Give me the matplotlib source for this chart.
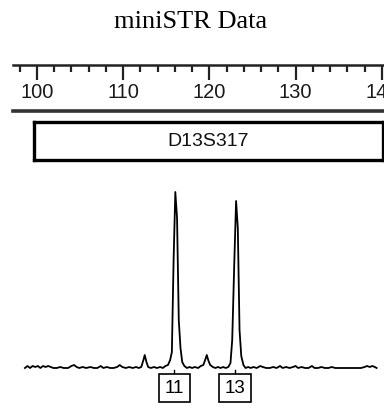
import matplotlib.pyplot as plt
from matplotlib.ticker import FixedLocator

# electropherogram trace, size in bp and signal (arbitrary units)
trace_bp = [98.6, 98.9, 99.2, 99.5, 99.8, 100.1, 100.4, 100.7, 101.0, 101.3,
            101.6, 101.9, 102.3, 102.7, 103.1, 103.6, 104.0, 104.3, 104.6, 104.9,
            105.3, 105.7, 106.2, 106.6, 107.0, 107.4, 107.7, 108.1, 108.5, 108.9,
            109.3, 109.6, 109.9, 110.3, 110.7, 111.1, 111.5, 111.8, 112.1, 112.35,
            112.5, 112.7, 112.9, 113.2, 113.6, 113.9, 114.3, 114.6, 114.9, 115.2,
            115.45, 115.65, 115.85, 116.05, 116.25, 116.45, 116.65, 116.85, 117.1, 117.4,
            117.7, 118.0, 118.3, 118.7, 119.0, 119.3, 119.55, 119.7, 119.9, 120.1,
            120.4, 120.7, 121.0, 121.3, 121.6, 121.9, 122.2, 122.45, 122.65, 122.9,
            123.1, 123.3, 123.5, 123.7, 123.95, 124.2, 124.5, 124.8, 125.1, 125.5,
            125.9, 126.2, 126.6, 127.0, 127.4, 127.8, 128.2, 128.5, 128.9, 129.3,
            129.7, 130.0, 130.3, 130.7, 131.1, 131.5, 131.9, 132.2, 132.6, 133.0,
            133.4, 133.8, 134.2, 134.6, 135.0, 135.5, 135.9, 136.3, 136.7, 137.1,
            137.6, 138.0, 138.3, 138.6, 138.9, 139.2, 139.4]
trace_signal = [0, 2, 0, 2, 1, 2, 0, 2, 1, 2,
                1, 0, 0, 1, 0, 0, 2, 3, 1, 0,
                1, 0, 1, 0, 0, 2, 0, 1, 0, 0,
                1, 3, 1, 0, 1, 0, 1, 0, 1, 8,
                13, 6, 1, 0, 1, 0, 1, 0, 2, 3,
                8, 16, 108, 176, 150, 48, 20, 6, 2, 0,
                1, 0, 1, 0, 2, 3, 9, 13, 7, 3,
                1, 0, 1, 0, 1, 0, 1, 5, 28, 108,
                167, 140, 38, 12, 3, 0, 1, 0, 1, 0,
                2, 1, 0, 0, 1, 0, 2, 0, 1, 0,
                1, 2, 0, 1, 0, 0, 2, 0, 0, 1,
                0, 0, 1, 0, 0, 0, 0, 0, 0, 0,
                0, 1, 2, 1, 2, 1, 0]

allele_bp = [115.95, 123.03]
allele_labels = ["11", "13"]
locus = "D13S317"
title = "miniSTR Data"
ruler_major = [100, 110, 120, 130, 140]
ruler_minor = [98, 102, 104, 106, 108, 112, 114, 116, 118, 122, 124, 126, 128,
               132, 134, 136, 138]

W, H = 384, 411
x_lo, x_hi = 95.71, 140.26

fig = plt.figure(figsize=(W / 100, H / 100), dpi=100)

def frac(x0, y0, x1, y1):
    # pixel box (top-left origin) -> figure fraction rect
    return [x0 / W, 1 - y1 / H, (x1 - x0) / W, (y1 - y0) / H]

fig.text(191 / W, 1 - 22 / H, title, ha="center", va="center",
         family="Liberation Serif", fontsize=19)

# size ruler
ax_r = fig.add_axes(frac(0, 65, W, 111))
ax_r.set_xlim(x_lo, x_hi)
ax_r.set_ylim(0, 1)
for s in ["left", "right"]:
    ax_r.spines[s].set_visible(False)
ax_r.spines["top"].set_linewidth(1.8)
ax_r.spines["top"].set_color("#222222")
ax_r.spines["bottom"].set_linewidth(2.6)
ax_r.spines["bottom"].set_color("#333333")
ax_r.spines["top"].set_bounds(97.2, x_hi)
ax_r.spines["bottom"].set_bounds(97.2, x_hi)
ax_r.xaxis.set_major_locator(FixedLocator(ruler_major))
ax_r.xaxis.set_minor_locator(FixedLocator(ruler_minor))
ax_r.xaxis.tick_top()
ax_r.tick_params(axis="x", which="both", direction="in", labeltop=False,
                 width=1.6, color="#222222")
ax_r.tick_params(axis="x", which="major", length=11)
ax_r.tick_params(axis="x", which="minor", length=5)
ax_r.set_yticks([])
for v in ruler_major:
    ax_r.text(v, 0.4, str(v), ha="center", va="center",
              family="Liberation Sans", fontsize=14.5, color="#1a1a1a")

# locus box
ax_b = fig.add_axes(frac(34, 122, 383, 160))
ax_b.set_xticks([])
ax_b.set_yticks([])
for s in ax_b.spines.values():
    s.set_linewidth(2.4)
ax_b.text(0.5, 0.5, locus, ha="center", va="center", transform=ax_b.transAxes,
          family="Liberation Sans", fontsize=14, color="#111111")

# trace
ax_t = fig.add_axes(frac(0, 185, W, 405))
ax_t.set_xlim(x_lo, x_hi)
ax_t.set_ylim(-37, 183)
ax_t.axis("off")
ax_t.plot(trace_bp, trace_signal, color="black", lw=1.3)

for bp, lab in zip(allele_bp, allele_labels):
    ax_t.plot([bp, bp], [-2, -6], color="black", lw=1)
    ax_t.text(bp, -20, lab, ha="center", va="center",
              family="Liberation Sans", fontsize=13.5,
              bbox=dict(boxstyle="square,pad=0.3", fc="white", ec="black", lw=1.2))

fig.savefig("out.png", dpi=100)
